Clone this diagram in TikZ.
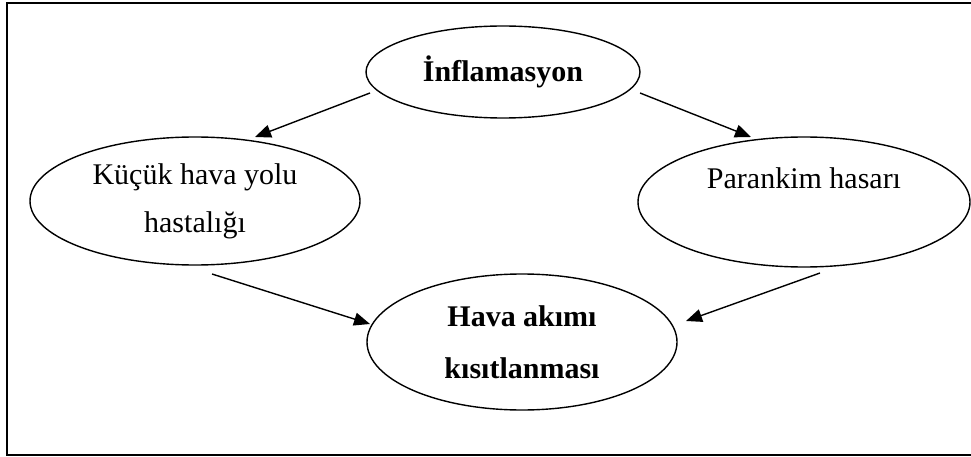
\documentclass[tikz,border=0pt]{standalone}
\usepackage{fontspec}
\setmainfont{Liberation Serif}
\usetikzlibrary{shapes.geometric,arrows.meta}
\begin{document}
\begin{tikzpicture}[x=1pt,y=-1pt,
  oval/.style={draw,ellipse,line width=1.4pt,inner sep=0pt,align=center,
    font=\fontsize{30}{48}\selectfont},
  arr/.style={line width=1.4pt,-{Triangle[length=16pt,width=13pt]}}]
\useasboundingbox (0,0) rectangle (971,457);
\draw[line width=2.4pt] (7,3) rectangle (974,455);
\node[oval,minimum width=274pt,minimum height=92pt] (infl) at (503,72) {\bfseries İnflamasyon};
\node[oval,minimum width=330pt,minimum height=128pt] (kucuk) at (195,201) {Küçük hava yolu\\hastalığı};
\node[oval,minimum width=332pt,minimum height=130pt] (paran) at (804,202) {Parankim hasarı\\\mbox{}};
\node[oval,minimum width=310pt,minimum height=136pt,font=\fontsize{30}{52}\selectfont\bfseries] (hava) at (522,342) {Hava akımı\\kısıtlanması};
\draw[arr] ([shift={(-133,21)}]infl.center) -- ([shift={(60,-64)}]kucuk.center);
\draw[arr] ([shift={(137,21)}]infl.center) -- ([shift={(-53,-65)}]paran.center);
\draw[arr] ([shift={(17,73)}]kucuk.center) -- ([shift={(-152,-18)}]hava.center);
\draw[arr] ([shift={(16,71)}]paran.center) -- ([shift={(164,-21)}]hava.center);
\end{tikzpicture}
\end{document}
